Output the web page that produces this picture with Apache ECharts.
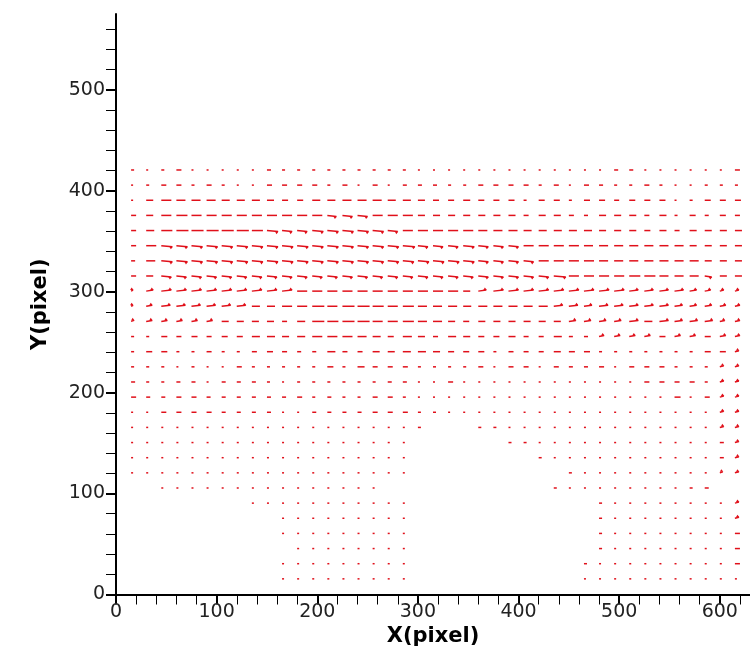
<!DOCTYPE html>
<html><head><meta charset="utf-8">
<script src="https://cdn.jsdelivr.net/npm/echarts@6/dist/echarts.min.js"></script>
<style>html,body{margin:0;padding:0;background:#fff}#c{width:750px;height:657px}</style>
</head><body><div id="c"></div>
<script>
const _ = null;
// grid point positions (pixel units)
const xCols = [15,30,45,60,75,90,105,120,135,150,165,180,195,210,225,240,255,270,285,300,315,330,345,360,375,390,405,420,435,450,465,480,495,510,525,540,555,570,585,600,615];
const yRows = [15.5,30.5,45.5,60.5,75.5,90.5,105.5,120.5,135.5,150.5,165.5,180.5,195.5,210.5,225.5,240.5,255.5,270.5,285.5,300.5,315.5,330.5,345.5,360.5,375.5,390.5,405.5,420.5];
const xTicks = [0,100,200,300,400,500,600];
const yTicks = [0,100,200,300,400,500];

// horizontal component u per row (bottom row first), null = no vector
const u00 = [_,_,_,_,_,_,_,_,_,_, 2,2,1,1,1,1,1,1,1, _,_,_,_,_,_,_,_,_,_,_, 2,1,1,1,1,1,1,1,1,1,1];
const u01 = [_,_,_,_,_,_,_,_,_,_, 2,1,1,1,1,1,1,1,1, _,_,_,_,_,_,_,_,_,_,_, 3,1,1,1,1,1,1,1,1,1,5];
const u02 = [_,_,_,_,_,_,_,_,_,_,_, 2,1,1,1,1,1,1,1, _,_,_,_,_,_,_,_,_,_,_,_, 3,1,1,1,1,1,1,1,1,5];
const u03 = [_,_,_,_,_,_,_,_,_,_, 2,1,1,1,1,1,1,1,1, _,_,_,_,_,_,_,_,_,_,_,_, 3,1,1,1,1,1,1,1,1,5];
const u04 = [_,_,_,_,_,_,_,_,_,_, 2,1,1,1,1,1,1,1,1, _,_,_,_,_,_,_,_,_,_,_,_, 3,1,1,1,1,1,1,1,1,4];
const u05 = [_,_,_,_,_,_,_,_, 2,2,1,1,1,1,1,1,1,1,1, _,_,_,_,_,_,_,_,_,_,_,_, 3,1,1,1,1,1,1,1,1,4];
const u06 = [_,_, 2,2,1,1,2,2,1,1,1,1,1,1,1,1,1, _,_,_,_,_,_,_,_,_,_,_, 3,1,1,1,1,1,1,1,1,3,4];
const u07 = [2,2,2,1,1,1,1,1,1,1,1,1,1,1,1,1,1,1,1, _,_,_,_,_,_,_,_,_,_, 3,1,1,1,1,1,1,1,1,1,3,4];
const u08 = [1,1,1,1,1,1,1,1,1,1,1,1,1,1,1,1,1,1,1, _,_,_,_,_,_,_,_, 3,1,1,1,1,1,1,1,1,1,1,1,4,4];
const u09 = [2,2,2,1,1,1,1,1,1,1,1,1,1,1,1,1,1,1,1, _,_,_,_,_,_, 3,3,1,1,1,1,1,1,1,1,1,1,1,1,4,4];
const u10 = [1,1,1,1,1,1,1,1,1,1,1,1,1,1,1,2,1,1,1,3, _,_,_, 3,3,1,1,1,1,1,1,1,1,1,1,1,1,1,1,4,4];
const u11 = [2,2,5,5,5,5,4,4,4,4,2,2,4,4,4,4,5, 5,5,3,3,2,2,2,2,2,2,2,2,2,2,2,2, 2,2,2,2,2,2,4,4];
const u12 = [5,4,4,5,5,4,4,4,4,4,4,5,3,4,3,3,5, 5,3,2,2,2,2,2,2,2,2,2,2,2,2,2,2, 2,2,2,6,2,5,4,4];
const u13 = [4,3,3,4,4,2,4,4,4,3,2,3,3,3,3,3,3, 4,4,2,2,5,2,2,2,2,2,2,2,2,2,2,2, 2,5,5,5,5,3,4,4];
const u14 = [3,3,3,2,3,2,2,5,3,3,3,3,3,6,3,7,5, 5,5,3,3,3,3,5,2,5,5,2,5,4,4,5,2, 5,5,5,3,3,3,4,4];
const u15 = [3,6,6,3,3,5,3,3,5,6,5,4,4,8,5,5,7, 7,8,8,7,6,6,6,3,5,5,5,7,6,6,3,3, 3,3,3,3,3,6,6,4];
const u16 = [3,3,6,5,6,5,6,6,8,8,7,8,10,10,10,9,8, 6,9,7,5,8,7,6,6,7,5,5,8,4,4,5,6, 6,6,6,6,6,6,6,5];
const u17 = [3,6,6,6,6,6,7,7,7,7,5,8,12,11,12,12,10, 10,11,9,9,7,6,7,7,7,7,7,7,7,7,7,7, 9,8,9,8,8,8,5,5];
const u18 = [2,6,9,9,9,9,9,9,8,8,10,10,12,10,12,12,11, 10,11,9,9,9,8,9,9,9,9,9,9,9,8,9,9, 9,9,9,8,7,7,6,5];
const u19 = [2,7,10,10,10,10,10,10,10,10,10, 10,10,10,10,10,10,10,10,10,10,10, 7,8,10,10,10,10,10,10,10,10,10, 9,9,9,9,7,6,4,4];
const u20 = [5,7,10,10,10,10,10,10,10,10,10, 10,10,10,10,10,10,10,10,10,10,10, 10,10,10,10,10,10,12,10,10,10,10, 11,11,9,9,9,7,7,7];
const u21 = [4,9,11,11,11,11,11,11,11,11,11, 11,11,11,11,11,11,11,11,11,11,11, 11,10,10,10,10,10,10,10,10,9,9, 9,9,9,9,9,7,7,7];
const u22 = [5,10,11,11,11,11,11,11,11,11,11, 11,11,11,11,11,11,11,12,10,10,10, 11,10,10,10,10,10,10,10,9,9,9, 9,9,9,9,7,7,7,7];
const u23 = [5,8,11,12,12,12,12,12,11,11,10, 10,11,11,11,11,11,10,10,10,10,10, 10,9,9,9,8,8,8,8,8,7,7, 7,6,7,5,7,7,7,7];
const u24 = [5,7,10,11,10,10,10,10,10,10,10, 10,10,9,10,10,10,10,10,7,7,7, 7,7,7,7,5,7,7,5,4,7,7, 7,5,7,3,6,4,6,5];
const u25 = [2,7,10,9,9,9,8,8,8,7,6, 6,8,8,9,9,9,8,8,7,6,6, 7,6,6,6,3,6,6,3,6,6,5, 6,6,6,2,3,6,6,6];
const u26 = [1,3,5,5,3,5,3,2,2,5,5, 5,5,3,5,2,5,2,4,4,4,3, 3,5,5,5,5,3,5,1,5,4,3, 3,5,3,2,2,3,3,3];
const u27 = [3,1,3,5,1,1,1,1,1,4,3, 3,3,3,3,3,3,3,3,1,1,1, 1,1,1,1,1,1,1,1,1,1,4, 4,1,1,1,1,1,1,5];

// small vertical component v per row (bottom row first)
const v00 = [0,0,0,0,0,0,0,0,0,0,0,0,0,0,0,0,0,0,0,0,0,0,0,0,0,0,0,0,0,0,0,0,0,0,0,0,0,0,0,0,0];
const v01 = [0,0,0,0,0,0,0,0,0,0,0,0,0,0,0,0,0,0,0,0,0,0,0,0,0,0,0,0,0,0,0,0,0,0,0,0,0,0,0,0,0];
const v02 = [0,0,0,0,0,0,0,0,0,0,0,0,0,0,0,0,0,0,0,0,0,0,0,0,0,0,0,0,0,0,0,0,0,0,0,0,0,0,0,0,0];
const v03 = [0,0,0,0,0,0,0,0,0,0,0,0,0,0,0,0,0,0,0,0,0,0,0,0,0,0,0,0,0,0,0,0,0,0,0,0,0,0,0,0,0];
const v04 = [0,0,0,0,0,0,0,0,0,0,0,0,0,0,0,0,0,0,0,0,0,0,0,0,0,0,0,0,0,0,0,0,0,0,0,0,0,0,0,0,1];
const v05 = [0,0,0,0,0,0,0,0,0,0,0,0,0,0,0,0,0,0,0,0,0,0,0,0,0,0,0,0,0,0,0,0,0,0,0,0,0,0,0,0,1];
const v06 = [0,0,0,0,0,0,0,0,0,0,0,0,0,0,0,0,0,0,0,0,0,0,0,0,0,0,0,0,0,0,0,0,0,0,0,0,0,0,0,1,1];
const v07 = [0,0,0,0,0,0,0,0,0,0,0,0,0,0,0,0,0,0,0,0,0,0,0,0,0,0,0,0,0,0,0,0,0,0,0,0,0,0,0,1,1];
const v08 = [0,0,0,0,0,0,0,0,0,0,0,0,0,0,0,0,0,0,0,0,0,0,0,0,0,0,0,0,0,0,0,0,0,0,0,0,0,0,0,0,1];
const v09 = [0,0,0,0,0,0,0,0,0,0,0,0,0,0,0,0,0,0,0,0,0,0,0,0,0,0,0,0,0,0,0,0,0,0,0,0,0,0,0,0,1];
const v10 = [0,0,0,0,0,0,0,0,0,0,0,0,0,0,0,0,0,0,0,0,0,0,0,0,0,0,0,0,0,0,0,0,0,0,0,0,0,0,0,1,1];
const v11 = [0,0,0,0,0,0,0,0,0,0,0,0,0,0,0,0,0,0,0,0,0,0,0,0,0,0,0,0,0,0,0,0,0,0,0,0,0,0,0,1,1];
const v12 = [0,0,0,0,0,0,0,0,0,0,0,0,0,0,0,0,0,0,0,0,0,0,0,0,0,0,0,0,0,0,0,0,0,0,0,0,0,0,0,1,1];
const v13 = [0,0,0,0,0,0,0,0,0,0,0,0,0,0,0,0,0,0,0,0,0,0,0,0,0,0,0,0,0,0,0,0,0,0,0,0,0,0,0,1,1];
const v14 = [0,0,0,0,0,0,0,0,0,0,0,0,0,0,0,0,0,0,0,0,0,0,0,0,0,0,0,0,0,0,0,0,0,0,0,0,0,0,0,1,1];
const v15 = [0,0,0,0,0,0,0,0,0,0,0,0,0,0,0,0,0,0,0,0,0,0,0,0,0,0,0,0,0,0,0,0,0,0,0,0,0,0,0,0,1];
const v16 = [0,0,0,0,0,0,0,0,0,0,0,0,0,0,0,0,0,0,0,0,0,0,0,0,0,0,0,0,0,0,0,1,1,1,1,0,1,1,0,1,1];
const v17 = [1,1,1,1,1,1,0,0,0,0,0,0,0,0,0,0,0,0,0,0,0,0,0,0,0,0,0,0,0,1,1,1,1,1,0,1,1,1,1,1,1];
const v18 = [1,1,1,1,1,1,1,1,0,0,0,0,0,0,0,0,0,0,0,0,0,0,0,0,0,0,0,0,1,1,1,1,1,1,1,1,1,1,1,1,1];
const v19 = [1,1,1,1,1,1,1,1,1,1,1,0,0,0,0,0,0,0,0,0,0,0,0,1,1,1,1,1,1,1,1,1,1,1,1,1,1,1,1,1,1];
const v20 = [0,0,-1,-1,-1,-1,-1,-1,-1,-1,-1,-1,-1,-1,-1,-1,-1,-1,-1,-1,-1,-1,-1,-1,-1,-1,-1,-1,-1,0,0,0,0,0,0,0,0,0,-1,0,0];
const v21 = [0,0,-1,-1,-1,-1,-1,-1,-1,-1,-1,-1,-1,-1,-1,-1,-1,-1,-1,-1,-1,-1,-1,-1,-1,-1,-1,0,0,0,0,0,0,0,0,0,0,0,0,0,0];
const v22 = [0,0,-1,-1,-1,-1,-1,-1,-1,-1,-1,-1,-1,-1,-1,-1,-1,-1,-1,-1,-1,-1,-1,-1,-1,-1,0,0,0,0,0,0,0,0,0,0,0,0,0,0,0];
const v23 = [0,0,0,0,0,0,0,0,0,-1,-1,-1,-1,-1,-1,-1,-1,-1,0,0,0,0,0,0,0,0,0,0,0,0,0,0,0,0,0,0,0,0,0,0,0];
const v24 = [0,0,0,0,0,0,0,0,0,0,0,0,0,-1,-1,-1,0,0,0,0,0,0,0,0,0,0,0,0,0,0,0,0,0,0,0,0,0,0,0,0,0];
const v25 = [0,0,0,0,0,0,0,0,0,0,0,0,0,0,0,0,0,0,0,0,0,0,0,0,0,0,0,0,0,0,0,0,0,0,0,0,0,0,0,0,0];
const v26 = [0,0,0,0,0,0,0,0,0,0,0,0,0,0,0,0,0,0,0,0,0,0,0,0,0,0,0,0,0,0,0,0,0,0,0,0,0,0,0,0,0];
const v27 = [0,0,0,0,0,0,0,0,0,0,0,0,0,0,0,0,0,0,0,0,0,0,0,0,0,0,0,0,0,0,0,0,0,0,0,0,0,0,0,0,0];

const uRows = [u00,u01,u02,u03,u04,u05,u06,u07,u08,u09,u10,u11,u12,u13,u14,u15,u16,u17,u18,u19,u20,u21,u22,u23,u24,u25,u26,u27];
const vRows = [v00,v01,v02,v03,v04,v05,v06,v07,v08,v09,v10,v11,v12,v13,v14,v15,v16,v17,v18,v19,v20,v21,v22,v23,v24,v25,v26,v27];

const data = [];
yRows.forEach((y, r) => {
  xCols.forEach((x, c) => {
    const u = uRows[r][c];
    if (u !== null && u !== undefined) data.push([x, y, u, vRows[r][c] || 0]);
  });
});

const RED = '#e0101a';
function renderItem(params, api) {
  const x = api.value(0), y = api.value(1), u = api.value(2), v = api.value(3);
  const p0 = api.coord([x, y]);
  const p1 = api.coord([x + u, y + v]);
  if (p1[0] - p0[0] < 2) p1[0] = p0[0] + 2;
  const children = [{
    type: 'line',
    shape: {x1: p0[0], y1: p0[1], x2: p1[0], y2: p1[1]},
    style: {stroke: RED, lineWidth: 1.5}
  }];
  if (v !== 0) {
    const s = v < 0 ? 1 : -1;
    children.push({
      type: 'polygon',
      shape: {points: [[p1[0] + 0.5, p1[1]], [p1[0] - 3, p1[1]], [p1[0] - 1.5, p1[1] + s * 2.6]]},
      style: {fill: RED}
    });
  }
  return {type: 'group', children};
}

const chart = echarts.init(document.getElementById('c'), null, {renderer: 'canvas'});
const tickFont = {fontFamily: 'DejaVu Sans', fontSize: 19, color: '#222'};
const nameFont = {fontFamily: 'DejaVu Sans', fontWeight: 'bold', fontSize: 21, color: '#000'};
chart.setOption({
  animation: false,
  backgroundColor: '#fff',
  grid: {left: 116, right: 0, top: 14, bottom: 62.5, containLabel: false},
  xAxis: {
    type: 'value', min: 0, max: 630, interval: 100,
    name: 'X(pixel)', nameLocation: 'middle', nameGap: 30, nameTextStyle: nameFont,
    axisLine: {show: true, onZero: false, lineStyle: {color: '#000', width: 2}},
    axisTick: {show: true, inside: false, length: 10, lineStyle: {color: '#000', width: 2}, customValues: xTicks},
    minorTick: {show: true, splitNumber: 5, length: 10, lineStyle: {color: '#000', width: 1}},
    axisLabel: Object.assign({margin: 8, customValues: xTicks}, tickFont),
    splitLine: {show: false}, minorSplitLine: {show: false}
  },
  yAxis: {
    type: 'value', min: 0, max: 575, interval: 100,
    name: 'Y(pixel)', nameLocation: 'middle', nameGap: 65, nameRotate: 90, nameTextStyle: nameFont,
    axisLine: {show: true, onZero: false, lineStyle: {color: '#000', width: 2}},
    axisTick: {show: true, inside: false, length: 10, lineStyle: {color: '#000', width: 2}, customValues: yTicks},
    minorTick: {show: true, splitNumber: 5, length: 10, lineStyle: {color: '#000', width: 1}},
    axisLabel: Object.assign({margin: 11, customValues: yTicks}, tickFont),
    splitLine: {show: false}, minorSplitLine: {show: false}
  },
  series: [{
    type: 'custom',
    coordinateSystem: 'cartesian2d',
    renderItem: renderItem,
    dimensions: ['x', 'y', 'u', 'v'],
    encode: {x: 0, y: 1},
    data: data,
    silent: true,
    clip: false
  }]
});
</script>
</body></html>
